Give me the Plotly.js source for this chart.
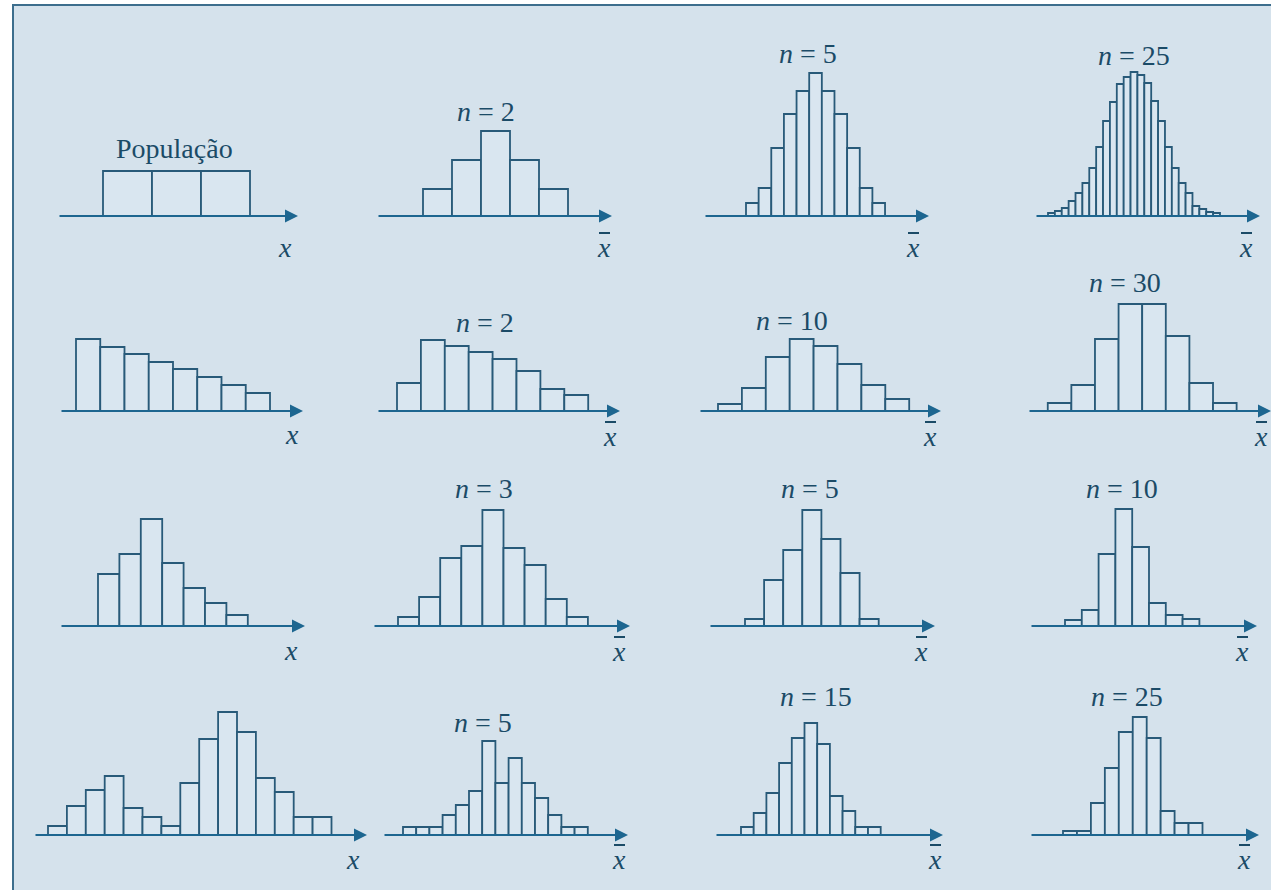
<!DOCTYPE html>
<html>
<head>
<meta charset="utf-8">
<script src="https://cdn.plot.ly/plotly-3.0.1.min.js"></script>
<style>
  html, body { margin: 0; padding: 0; background: #ffffff; }
  #chart { width: 1271px; height: 890px; }
</style>
</head>
<body>
<div id="chart"></div>
<script>
// Frequencies of each histogram (relative heights of the bars)
// Row 1: uniform population and sampling distributions of the mean
const uniformPopulation = [45, 45, 45];
const uniformN2 = [27, 56, 85, 56, 27];
const uniformN5 = [13, 28, 68, 102, 125, 143, 125, 102, 68, 28, 13];
const uniformN25 = [3, 5, 8, 15, 23, 33, 48, 69, 95, 114, 132, 139, 144, 141, 133, 115, 95, 69, 48, 33, 23, 10, 7, 4, 3];

// Row 2: decreasing population
const decreasingPopulation = [72, 64, 57, 49, 42, 34, 26, 18];
const decreasingN2 = [28, 71, 65, 59, 52, 40, 22, 16];
const decreasingN10 = [7, 23, 54, 72, 65, 47, 26, 12];
const decreasingN30 = [8, 26, 72, 107, 107, 75, 28, 8];

// Row 3: right-skewed population
const skewedPopulation = [52, 72, 107, 63, 38, 23, 11];
const skewedN3 = [9, 29, 68, 80, 116, 78, 61, 27, 9];
const skewedN5 = [7, 46, 76, 116, 87, 53, 7];
const skewedN10 = [6, 16, 72, 117, 79, 23, 11, 7];

// Row 4: bimodal population
const bimodalPopulation = [9, 29, 45, 59, 27, 18, 9, 52, 96, 123, 103, 57, 43, 18, 18];
const bimodalN5 = [8, 8, 8, 20, 30, 44, 94, 52, 77, 52, 37, 20, 8, 8];
const bimodalN15 = [8, 22, 42, 72, 97, 112, 91, 39, 24, 8, 8];
const bimodalN25 = [4, 4, 32, 67, 103, 118, 97, 24, 12, 12];

// Panel headings and axis labels
const panelTitles = [
  'População', '<i>n</i> = 2', '<i>n</i> = 5', '<i>n</i> = 25',
  '', '<i>n</i> = 2', '<i>n</i> = 10', '<i>n</i> = 30',
  '', '<i>n</i> = 3', '<i>n</i> = 5', '<i>n</i> = 10',
  '', '<i>n</i> = 5', '<i>n</i> = 15', '<i>n</i> = 25'
];
const axisLabel = '<i>x</i>';

// Placement of each small histogram on the page (pixels):
// a0/a1 = start and tip of the axis arrow, base = baseline,
// left/bw = left edge and width of the bars, t = heading centre, l = axis label centre
const panels = [
  { vals: uniformPopulation, a0: 58,   a1: 298,  base: 216, left: 103,  bw: 49,    t: [174, 148],  l: [285, 247], pop: true },
  { vals: uniformN2,         a0: 377,  a1: 612,  base: 216, left: 423,  bw: 29,    t: [486, 111],  l: [604, 247] },
  { vals: uniformN5,         a0: 704,  a1: 929,  base: 216, left: 746,  bw: 12.64, t: [808, 54],   l: [913, 247] },
  { vals: uniformN25,        a0: 1035, a1: 1260, base: 216, left: 1048, bw: 6.88,  t: [1134, 56],  l: [1246, 247] },

  { vals: decreasingPopulation, a0: 60,   a1: 303,  base: 411, left: 76,   bw: 24.25, t: [0, 0],      l: [292, 434], pop: true },
  { vals: decreasingN2,         a0: 377,  a1: 620,  base: 411, left: 397,  bw: 23.9,  t: [485, 322],  l: [610, 436] },
  { vals: decreasingN10,        a0: 699,  a1: 941,  base: 411, left: 718,  bw: 23.9,  t: [792, 320],  l: [930, 436] },
  { vals: decreasingN30,        a0: 1028, a1: 1274, base: 411, left: 1048, bw: 23.9,  t: [1125, 282], l: [1261, 436] },

  { vals: skewedPopulation, a0: 60,   a1: 305,  base: 626, left: 98,   bw: 21.4, t: [0, 0],      l: [291, 650], pop: true },
  { vals: skewedN3,         a0: 373,  a1: 630,  base: 626, left: 398,  bw: 21.1, t: [484, 488],  l: [619, 651] },
  { vals: skewedN5,         a0: 709,  a1: 935,  base: 626, left: 745,  bw: 19.1, t: [810, 488],  l: [921, 651] },
  { vals: skewedN10,        a0: 1030, a1: 1257, base: 626, left: 1065, bw: 16.8, t: [1122, 488], l: [1242, 651] },

  { vals: bimodalPopulation, a0: 34,   a1: 367,  base: 835, left: 48,   bw: 18.9,  t: [0, 0],      l: [353, 859], pop: true },
  { vals: bimodalN5,         a0: 383,  a1: 628,  base: 835, left: 403,  bw: 13.2,  t: [483, 722],  l: [619, 859] },
  { vals: bimodalN15,        a0: 715,  a1: 943,  base: 835, left: 741,  bw: 12.7,  t: [816, 696],  l: [935, 859] },
  { vals: bimodalN25,        a0: 1030, a1: 1259, base: 835, left: 1063, bw: 13.95, t: [1127, 696], l: [1244, 859] }
];

const W = 1271, H = 890;
const SPAN = 170;               // vertical extent of each panel, in bar-height units
const barFill = '#d9e6f0';
const barEdge = '#285a79';
const arrowColor = '#1d6690';
const textColor = '#1b4b67';
const serif = 'Liberation Serif';

const traces = [];
const layout = {
  width: W, height: H,
  margin: { l: 0, r: 0, t: 0, b: 0 },
  paper_bgcolor: '#ffffff',
  plot_bgcolor: 'rgba(0,0,0,0)',
  showlegend: false,
  bargap: 0,
  annotations: [],
  shapes: [{
    type: 'rect', xref: 'paper', yref: 'paper', layer: 'below',
    x0: 13 / W, x1: 1.02, y0: -0.02, y1: 1 - 5 / H,
    fillcolor: '#d5e2ec', line: { color: '#3d6e8d', width: 2 }
  }]
};

panels.forEach((p, i) => {
  const k = i === 0 ? '' : String(i + 1);
  const xa = 'x' + k, ya = 'y' + k;
  const idx = p.vals.map((_, j) => j);

  traces.push({
    type: 'bar', x: idx, y: p.vals, width: 1,
    xaxis: xa, yaxis: ya,
    marker: { color: barFill, line: { color: barEdge, width: 1.8 } },
    hoverinfo: 'skip'
  });

  const r0 = (p.a0 - p.left) / p.bw - 0.5;
  const r1 = (p.a1 - p.left) / p.bw - 0.5;
  const yb = (H - p.base) / H;

  layout['xaxis' + k] = {
    domain: [p.a0 / W, p.a1 / W], range: [r0, r1], anchor: ya,
    visible: false, fixedrange: true
  };
  layout['yaxis' + k] = {
    domain: [yb, yb + SPAN / H], range: [0, SPAN], anchor: xa,
    visible: false, fixedrange: true
  };

  // horizontal axis with arrow head
  layout.annotations.push({
    xref: xa, yref: ya, axref: xa, ayref: ya,
    x: r1, y: 0, ax: r0, ay: 0, text: '',
    showarrow: true, arrowhead: 2, arrowsize: 1.3, arrowwidth: 2,
    arrowcolor: arrowColor, standoff: 0
  });

  // panel heading
  if (panelTitles[i]) {
    layout.annotations.push({
      xref: 'paper', yref: 'paper', x: p.t[0] / W, y: 1 - p.t[1] / H,
      xanchor: 'center', yanchor: 'middle', showarrow: false,
      text: panelTitles[i], font: { family: serif, size: 28, color: textColor }
    });
  }

  // axis label: x for the population, x with a bar for the sample mean
  layout.annotations.push({
    xref: 'paper', yref: 'paper', x: p.l[0] / W, y: 1 - p.l[1] / H,
    xanchor: 'center', yanchor: 'middle', showarrow: false,
    text: axisLabel, font: { family: serif, size: 28, color: textColor }
  });
  if (!p.pop) {
    layout.shapes.push({
      type: 'line', xref: 'paper', yref: 'paper',
      x0: (p.l[0] - 5) / W, x1: (p.l[0] + 6) / W,
      y0: 1 - (p.l[1] - 14) / H, y1: 1 - (p.l[1] - 14) / H,
      line: { color: textColor, width: 2 }
    });
  }
});

Plotly.newPlot('chart', traces, layout, { displayModeBar: false, staticPlot: true });
</script>
</body>
</html>
